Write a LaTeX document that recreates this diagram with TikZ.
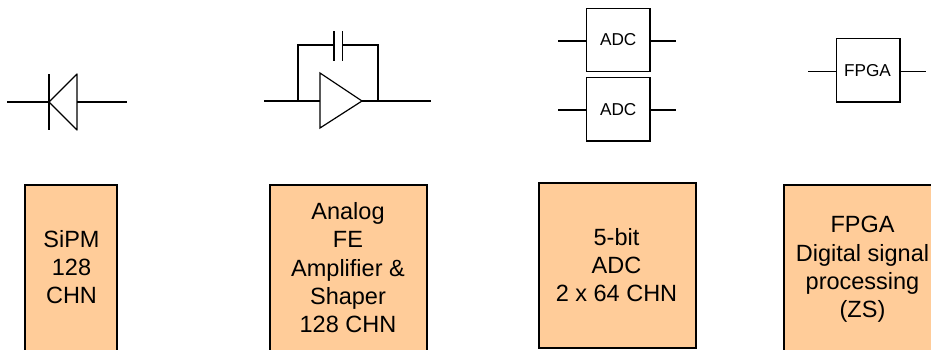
\documentclass[tikz,border=0pt]{standalone}
\usepackage{fontspec}
\setmainfont{Liberation Sans}
\definecolor{boxorange}{HTML}{FFCC99}
\tikzset{
  wire/.style={draw=black,line width=1.2pt,line cap=butt},
  chip/.style={draw=black,line width=1.2pt,fill=white},
  bigbox/.style={draw=black,line width=2pt,fill=boxorange},
  biglabel/.style={font=\fontsize{23.5}{28.3}\selectfont,align=center,inner sep=0pt,text=black},
  smalllabel/.style={font=\fontsize{17.2}{20}\selectfont,inner sep=0pt,text=black},
  end/.style={inner sep=0pt,minimum size=0pt}
}
\begin{document}
\begin{tikzpicture}[x=1pt,y=-1pt]
\useasboundingbox (0,0) rectangle (931,349);
\begin{scope}
\clip (0,0) rectangle (931,349);
% big orange boxes
\draw[bigbox] (25,185) rectangle (117,360);
\draw[bigbox] (270,185) rectangle (427,360);
\draw[bigbox] (538.5,182.5) rectangle (695.5,348);
\draw[bigbox] (783.5,185) rectangle (950,360);
\end{scope}
\node[biglabel] (sipm) at (71.5,267) {SiPM\\128\\CHN};
\node[biglabel] (afe) at (348,267.8) {Analog\\FE\\Amplifier \&\\Shaper\\128 CHN};
\node[biglabel] (adcbig) at (616.5,265) {5-bit\\ADC\\2 x 64 CHN};
\node[biglabel] (fpgabig) at (862.5,269.5) {FPGA\\Digital signal\\processing\\(ZS)};
% diode
\coordinate (dl) at (7,102);
\coordinate (dk) at (49,102);
\coordinate (da) at (77,102);
\coordinate (dr) at (127,102);
\draw[wire] (dl) -- (dk);
\draw[wire] (da) -- (dr);
\draw[wire] (49,74) -- (49,130);
\draw[wire,line join=round] (dk) -- (77,74) -- (77,130) -- cycle;
% amplifier
\coordinate (ai) at (264,101);
\coordinate (ain) at (320,101);
\coordinate (aout) at (362,101);
\coordinate (ao) at (431,101);
\coordinate (fbl) at (298,101);
\coordinate (fbr) at (378,101);
\coordinate (capl) at (334,45);
\coordinate (capr) at (342.5,45);
\draw[wire] (ai) -- (ain);
\draw[wire] (aout) -- (ao);
\draw[wire] (320,73) -- (320,128) -- (aout) -- cycle;
\draw[wire] (fbl) |- (capl);
\draw[wire] (fbr) |- (capr);
\draw[wire] (334,31) -- (334,61);
\draw[wire] (342.5,31) -- (342.5,61);
% ADC chips
\node[chip,smalllabel,minimum width=63.5pt,minimum height=63.5pt] (adca) at (618.2,40) {ADC};
\node[chip,smalllabel,minimum width=63.5pt,minimum height=63.5pt] (adcb) at (618.2,109.3) {ADC};
\node[chip,smalllabel,minimum width=63.5pt,minimum height=63.5pt] (fpga) at (868.2,70.3) {\kern-1.5pt FPGA};
\coordinate (a1l) at (558,41); \coordinate (a1r) at (676,41);
\coordinate (a2l) at (558,110); \coordinate (a2r) at (676,110);
\coordinate (fl) at (808,71.5); \coordinate (fr) at (926,71.5);
\draw[wire] (a1l) -- (a1l -| adca.west);
\draw[wire] (adca.east |- a1r) -- (a1r);
\draw[wire] (a2l) -- (a2l -| adcb.west);
\draw[wire] (adcb.east |- a2r) -- (a2r);
\draw[wire] (fl) -- (fl -| fpga.west);
\draw[wire] (fpga.east |- fr) -- (fr);
\end{tikzpicture}
\end{document}
